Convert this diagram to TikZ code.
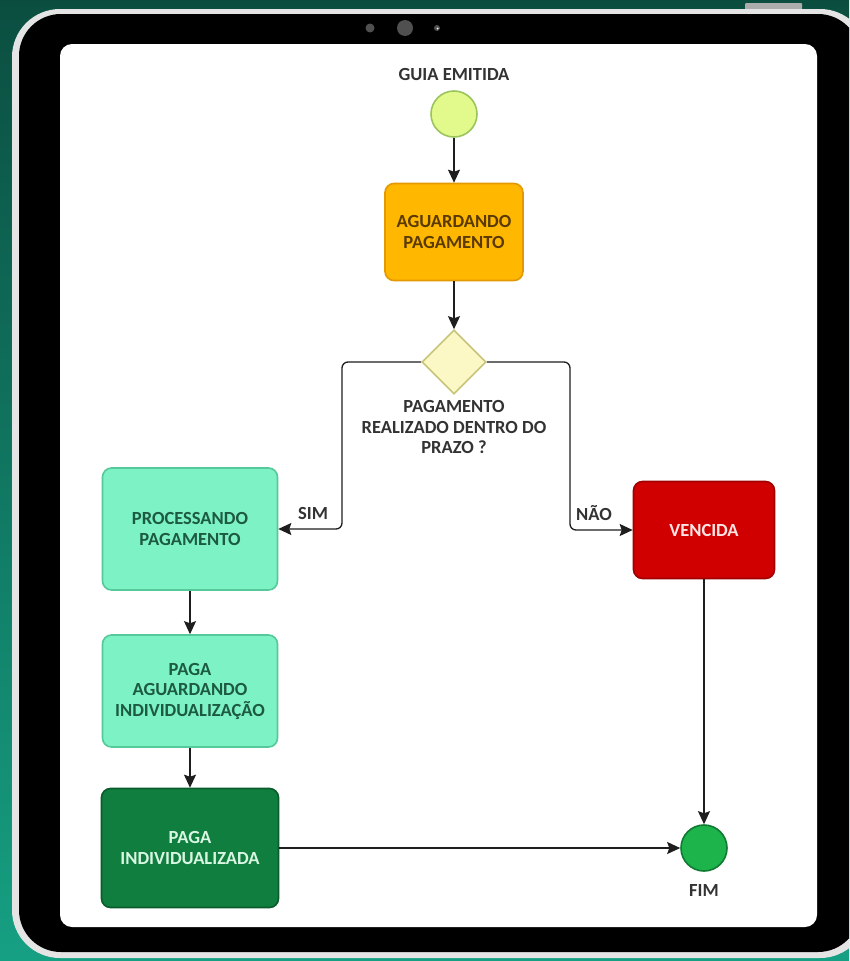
\documentclass[tikz,border=0pt]{standalone}
\usepackage{fontspec}
\setmainfont{Carlito}
\usepackage{tikz}
\usetikzlibrary{arrows.meta, shapes.geometric}
\definecolor{fundotopo}{HTML}{0B4E40}
\definecolor{fundobase}{HTML}{16A083}
\definecolor{moldura}{HTML}{E4E4E4}
\definecolor{camera}{HTML}{505050}
\definecolor{linha}{HTML}{1E1E1E}
\definecolor{texto}{HTML}{333333}
\definecolor{inicioF}{HTML}{E2FA8C}
\definecolor{inicioB}{HTML}{9CC45C}
\definecolor{laranjaF}{HTML}{FFB700}
\definecolor{laranjaB}{HTML}{E29A00}
\definecolor{laranjaT}{HTML}{5A3A00}
\definecolor{losangoF}{HTML}{FBF8C6}
\definecolor{losangoB}{HTML}{C8C57A}
\definecolor{mentaF}{HTML}{7DF2C4}
\definecolor{mentaB}{HTML}{56C99B}
\definecolor{mentaT}{HTML}{1D5A42}
\definecolor{verdeF}{HTML}{0F7E3E}
\definecolor{verdeB}{HTML}{0A5C2C}
\definecolor{verdeT}{HTML}{D8F6E2}
\definecolor{vermF}{HTML}{D00000}
\definecolor{vermB}{HTML}{A00000}
\definecolor{vermT}{HTML}{FFE4E4}
\definecolor{fimF}{HTML}{1EB44C}
\definecolor{fimB}{HTML}{0E7A32}

\begin{document}
\begin{tikzpicture}[x=1pt, y=-1pt,
  every node/.style={font=\fontsize{18.5}{20.5}\selectfont\bfseries},
  estado/.style={draw, line width=1.6pt, rounded corners=9pt, align=center, inner sep=2pt},
  seta/.style={draw=linha, line width=1.3pt, -{Stealth[length=13pt, width=12pt, inset=2pt]}},
  rotulo/.style={text=texto, align=center, inner sep=1pt}]
\useasboundingbox (0,0) rectangle (849,961);
\clip (0,0) rectangle (849,961);
\shade[top color=fundotopo, bottom color=fundobase] (0,0) rectangle (849,961);

\fill[gray!65, rounded corners=1pt] (745,3) rectangle (802,10);
\fill[moldura, rounded corners=48pt] (12,9) rectangle (868,958);
\fill[black, rounded corners=42pt] (19,14) rectangle (860,952);
\fill[white, rounded corners=12pt] (60,44) rectangle (817,927);
\fill[camera] (370,28) circle (4.5pt);
\fill[camera] (405,28) circle (8pt);
\fill[camera] (437,28) circle (3pt);
\fill[white] (437.5,28.5) circle (1pt);

\node[circle, draw=inicioB, fill=inicioF, line width=1.6pt, minimum size=46pt, inner sep=0] (inicio) at (454,114) {};
\node[rotulo] (tguia) at (454,75) {GUIA EMITIDA};
\node[estado, draw=laranjaB, fill=laranjaF, text=laranjaT, minimum width=138pt, minimum height=97pt] (aguardando) at (454,232) {AGUARDANDO\\PAGAMENTO};
\node[diamond, aspect=1, draw=losangoB, fill=losangoF, line width=1.6pt, minimum width=64pt, minimum height=64pt, inner sep=0] (decisao) at (454,362) {};
\node[rotulo] (pergunta) at (454,427) {PAGAMENTO\\REALIZADO DENTRO DO\\PRAZO ?};

\node[estado, draw=mentaB, fill=mentaF, text=mentaT, minimum width=175pt, minimum height=122pt] (processando) at (190,529) {PROCESSANDO\\PAGAMENTO};
\node[estado, draw=mentaB, fill=mentaF, text=mentaT, minimum width=175pt, minimum height=112pt] (pagaaguard) at (190,691) {PAGA\\AGUARDANDO\\INDIVIDUALIZAÇÃO};
\node[estado, draw=verdeB, fill=verdeF, text=verdeT, minimum width=177pt, minimum height=119pt] (pagaind) at (190,848) {PAGA\\INDIVIDUALIZADA};
\node[estado, draw=vermB, fill=vermF, text=vermT, minimum width=141pt, minimum height=97pt] (vencida) at (704,530) {VENCIDA};
\node[circle, draw=fimB, fill=fimF, line width=1.6pt, minimum size=46pt, inner sep=0] (fim) at (704,848) {};
\node[rotulo] (tfim) at (704,890) {FIM};

\coordinate (dobrasim) at (342,529);
\coordinate (dobranao) at (570,530);
\node[rotulo] (tsim) at (313,513) {SIM};
\node[rotulo] (tnao) at (594,513) {NÃO};

\draw[seta] (inicio) -- (aguardando);
\draw[seta] (aguardando) -- (decisao);
\draw[seta, rounded corners=6pt] (decisao.west) -| (dobrasim) -- (processando.east);
\draw[seta, rounded corners=6pt] (decisao.east) -| (dobranao) -- (vencida.west);
\draw[seta] (processando) -- (pagaaguard);
\draw[seta] (pagaaguard) -- (pagaind);
\draw[seta] (pagaind) -- (fim);
\draw[seta] (vencida) -- (fim);
\end{tikzpicture}
\end{document}
